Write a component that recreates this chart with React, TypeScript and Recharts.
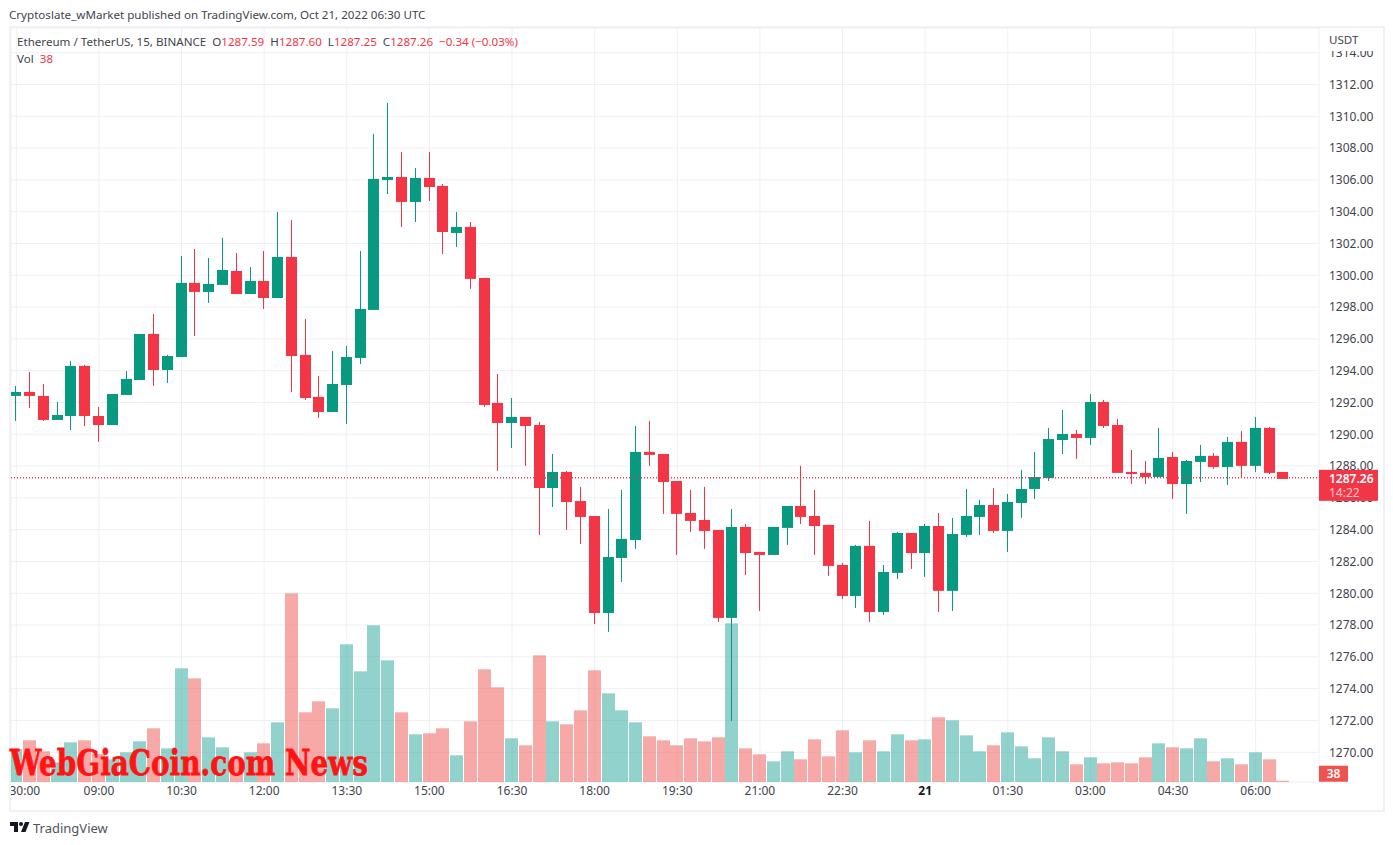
import React from 'react';
import {
  ComposedChart,
  Bar,
  XAxis,
  YAxis,
  CartesianGrid,
  ReferenceLine,
} from 'recharts';

const UP = '#089981';
const DOWN = '#f23645';
const VOL_UP = '#26a69a';
const VOL_DOWN = '#ef5350';
const GRID = '#eff0f3';
const FRAME = '#f0f1f6';
const TEXT = '#3f434e';
const FONT = '"Noto Sans", "Open Sans", sans-serif';

const opens = [
  1292.41, 1292.66, 1292.41, 1290.90, 1291.15, 1294.30, 1291.15, 1290.58, 1292.47, 1293.41,
  1296.31, 1294.04, 1294.86, 1299.52, 1298.95, 1299.39, 1300.27, 1298.82, 1299.64, 1298.57,
  1301.15, 1294.99, 1292.35, 1291.40, 1293.10, 1294.80, 1297.82, 1305.99, 1306.18, 1304.61,
  1306.12, 1305.62, 1302.66, 1303.04, 1299.83, 1291.97, 1290.71, 1291.09, 1290.58, 1286.62,
  1287.63, 1285.80, 1284.86, 1278.76, 1282.22, 1283.35, 1288.89, 1288.76, 1287.06, 1285.05,
  1284.61, 1283.98, 1278.45, 1284.17, 1282.60, 1282.41, 1284.11, 1285.49, 1284.86, 1284.30,
  1281.78, 1279.83, 1282.98, 1278.82, 1281.28, 1283.79, 1282.53, 1284.23, 1280.15, 1283.67,
  1284.80, 1285.55, 1283.92, 1285.68, 1286.56, 1287.25, 1289.64, 1290.02, 1289.77, 1292.03,
  1290.58, 1287.63, 1287.57, 1287.31, 1288.57, 1286.87, 1288.26, 1288.64, 1287.94, 1289.52,
  1288.01, 1290.40, 1287.63,
];
const highs = [
  1293.04, 1293.92, 1293.16, 1292.03, 1294.61, 1294.36, 1291.72, 1292.53, 1293.98, 1296.31,
  1297.57, 1294.99, 1301.21, 1301.65, 1301.09, 1302.35, 1301.40, 1300.52, 1301.53, 1303.98,
  1303.48, 1297.25, 1293.67, 1295.24, 1295.55, 1301.53, 1308.89, 1310.84, 1307.75, 1306.75,
  1307.75, 1305.74, 1303.98, 1303.35, 1299.83, 1293.79, 1292.28, 1291.09, 1290.77, 1288.76,
  1287.69, 1286.69, 1284.86, 1285.30, 1286.50, 1290.52, 1290.84, 1288.76, 1287.06, 1286.50,
  1286.69, 1283.98, 1285.30, 1284.36, 1282.60, 1284.17, 1285.49, 1288.01, 1286.50, 1284.30,
  1281.91, 1283.04, 1284.55, 1281.78, 1283.86, 1283.79, 1284.36, 1285.05, 1284.74, 1286.56,
  1285.87, 1286.62, 1286.25, 1287.76, 1288.89, 1290.40, 1291.53, 1290.27, 1292.53, 1292.16,
  1290.96, 1289.01, 1288.32, 1290.40, 1288.89, 1288.38, 1289.33, 1288.82, 1289.83, 1290.21,
  1291.09, 1290.46, 1287.63,
];
const lows = [
  1290.84, 1291.65, 1290.84, 1290.90, 1290.27, 1290.52, 1289.52, 1290.58, 1292.47, 1293.41,
  1293.04, 1293.23, 1294.86, 1296.18, 1298.26, 1299.39, 1298.82, 1298.82, 1297.88, 1298.57,
  1292.66, 1292.16, 1291.03, 1291.40, 1290.65, 1294.42, 1297.82, 1305.11, 1303.04, 1303.35,
  1304.67, 1301.34, 1301.78, 1299.14, 1291.72, 1287.69, 1289.14, 1288.01, 1283.67, 1285.43,
  1283.98, 1283.10, 1278.07, 1277.57, 1280.71, 1282.79, 1288.01, 1284.99, 1282.41, 1283.86,
  1282.79, 1278.20, 1271.97, 1281.15, 1278.89, 1282.41, 1283.04, 1284.36, 1282.41, 1281.09,
  1279.64, 1279.08, 1278.20, 1278.64, 1280.90, 1281.53, 1281.03, 1278.82, 1278.89, 1283.54,
  1283.67, 1283.79, 1282.60, 1284.74, 1285.93, 1287.06, 1288.76, 1288.45, 1289.33, 1290.40,
  1287.57, 1286.87, 1286.87, 1287.31, 1285.93, 1284.99, 1287.00, 1287.82, 1286.81, 1287.31,
  1287.63, 1287.50, 1287.19,
];
const closes = [
  1292.66, 1292.41, 1290.90, 1291.21, 1294.30, 1291.15, 1290.58, 1292.53, 1293.48, 1296.31,
  1294.04, 1294.92, 1299.52, 1298.95, 1299.45, 1300.33, 1298.82, 1299.64, 1298.57, 1301.15,
  1294.92, 1292.28, 1291.40, 1293.16, 1294.86, 1297.88, 1306.06, 1306.18, 1304.61, 1306.12,
  1305.55, 1302.72, 1303.04, 1299.77, 1291.84, 1290.71, 1291.09, 1290.52, 1286.62, 1287.63,
  1285.74, 1284.80, 1278.76, 1282.28, 1283.42, 1288.89, 1288.70, 1287.00, 1284.99, 1284.55,
  1283.92, 1278.45, 1284.17, 1282.53, 1282.41, 1284.17, 1285.49, 1284.80, 1284.23, 1281.72,
  1279.83, 1282.98, 1278.82, 1281.34, 1283.79, 1282.53, 1284.23, 1280.15, 1283.73, 1284.86,
  1285.55, 1283.92, 1285.74, 1286.56, 1287.31, 1289.70, 1290.02, 1289.77, 1292.03, 1290.52,
  1287.57, 1287.50, 1287.31, 1288.51, 1286.87, 1288.32, 1288.64, 1287.94, 1289.52, 1288.01,
  1290.40, 1287.57, 1287.19,
];
const volumes = [
  990, 1250, 920, 590, 1190, 1250, 840, 680, 890, 1220,
  1610, 1010, 3410, 3110, 1340, 1040, 690, 890, 1160, 1790,
  5660, 2090, 2420, 2210, 4130, 3320, 4700, 3650, 2090, 1430,
  1460, 1610, 800, 1820, 3380, 2840, 1310, 1100, 3800, 1820,
  1730, 2150, 3350, 2660, 2150, 1790, 1370, 1250, 1100, 1310,
  1220, 1340, 4760, 1010, 830, 620, 920, 680, 1280, 770,
  1550, 890, 1250, 920, 1430, 1250, 1280, 1940, 1850, 1400,
  920, 1100, 1490, 1070, 710, 1340, 920, 530, 740, 560,
  590, 560, 740, 1160, 1040, 1010, 1310, 620, 710, 530,
  890, 680, 38,
];

const timeTicks = [0, 6, 12, 18, 24, 30, 36, 42, 48, 54, 60, 66, 72, 78, 84, 90];
const timeLabels = [
  '30:00', '09:00', '10:30', '12:00', '13:30', '15:00', '16:30', '18:00',
  '19:30', '21:00', '22:30', '21', '01:30', '03:00', '04:30', '06:00',
];
const priceTicks = [
  1270, 1272, 1274, 1276, 1278, 1280, 1282, 1284, 1286, 1288, 1290, 1292,
  1294, 1296, 1298, 1300, 1302, 1304, 1306, 1308, 1310, 1312, 1314,
];

const LAST_PRICE = 1287.26;
const LAST_VOLUME = 38;

const data = opens.map((open, i) => ({
  i,
  wick: [lows[i], highs[i]],
  body: [Math.min(open, closes[i]), Math.max(open, closes[i])],
  volume: volumes[i],
  up: closes[i] >= open,
}));

const xDomain: [number, number] = [-0.385, 94.6];
const priceDomain: [number, number] = [1268.13, 1315.55];
const volumeDomain: [number, number] = [0, 22620];

const TimeTick = (props: any) => {
  const { x, y, payload } = props;
  const idx = timeTicks.indexOf(payload.value);
  const label = timeLabels[idx];
  return (
    <text
      // first label is pushed inside the pane, like on the original
      x={idx === 0 ? x + 8.5 : x}
      y={y + 4}
      textAnchor="middle"
      fontFamily={FONT}
      fontSize={12}
      fontWeight={label === '21' ? 700 : 400}
      fill={label === '21' ? '#131722' : TEXT}
    >
      {label}
    </text>
  );
};

// bars snapped to whole pixels so wicks stay sharp
const CandleShape = (props: any) => {
  const { x, y, width, height, payload } = props;
  return <rect x={Math.round(x)} y={y} width={width} height={height} fill={payload.up ? UP : DOWN} />;
};

const VolumeShape = (props: any) => {
  const { x, y, width, height, payload } = props;
  return (
    <rect
      x={Math.round(x)}
      y={y}
      width={width}
      height={height}
      fill={payload.up ? VOL_UP : VOL_DOWN}
      fillOpacity={0.5}
    />
  );
};

const PriceTag = (props: any) => {
  const { viewBox } = props;
  const left = viewBox.x + viewBox.width;
  return (
    <g>
      <rect x={left} y={viewBox.y - 8} width={59} height={31} fill={DOWN} />
      <text x={left + 10} y={viewBox.y + 5} fontFamily={FONT} fontSize={12} fontWeight={600} fill="#fff">
        {LAST_PRICE.toFixed(2)}
      </text>
      <text x={left + 10} y={viewBox.y + 19} fontFamily={FONT} fontSize={12} fill="#fff" fillOpacity={0.75}>
        14:22
      </text>
    </g>
  );
};

const VolumeTag = (props: any) => {
  const { viewBox } = props;
  const left = viewBox.x + viewBox.width;
  return (
    <g>
      <rect x={left} y={viewBox.y - 15} width={29} height={16} fill={VOL_DOWN} />
      <text x={left + 14.5} y={viewBox.y - 3} textAnchor="middle" fontFamily={FONT} fontSize={12} fontWeight={600} fill="#fff">
        {LAST_VOLUME}
      </text>
    </g>
  );
};

const Red = ({ children }: { children: React.ReactNode }) => (
  <span style={{ color: DOWN }}>{children}</span>
);

export default function App() {
  return (
    <div
      style={{
        position: 'absolute',
        left: 0,
        top: 0,
        width: 1393,
        height: 845,
        background: '#fff',
        overflow: 'hidden',
        fontFamily: FONT,
        fontSize: 11.6,
        color: TEXT,
      }}
    >
      <ComposedChart
        width={1393}
        height={845}
        data={data}
        margin={{ top: 28, left: 11, right: 0, bottom: 0 }}
      >
        <CartesianGrid stroke={GRID} xAxisId="time" yAxisId="price" />
        <XAxis
          xAxisId="time"
          dataKey="i"
          type="number"
          domain={xDomain}
          allowDataOverflow
          ticks={timeTicks}
          height={63}
          tickSize={0}
          tickMargin={9}
          axisLine={false}
          tickLine={false}
          interval={0}
          tick={<TimeTick />}
        />
        <XAxis xAxisId="wick" dataKey="i" type="number" domain={xDomain} allowDataOverflow hide height={0} />
        <XAxis xAxisId="body" dataKey="i" type="number" domain={xDomain} allowDataOverflow hide height={0} />
        <YAxis
          yAxisId="price"
          orientation="right"
          domain={priceDomain}
          allowDataOverflow
          ticks={priceTicks}
          interval={0}
          width={74}
          tickSize={0}
          tickMargin={10}
          axisLine={false}
          tickLine={false}
          tick={{ fontFamily: FONT, fontSize: 12, fill: TEXT, textAnchor: 'start' }}
          tickFormatter={(v: number) => v.toFixed(2)}
        />
        <YAxis yAxisId="vol" domain={volumeDomain} allowDataOverflow hide />

        <Bar xAxisId="time" yAxisId="vol" dataKey="volume" barSize={13} shape={VolumeShape} isAnimationActive={false} />
        <Bar xAxisId="wick" yAxisId="price" dataKey="wick" barSize={1} shape={CandleShape} isAnimationActive={false} />
        <Bar xAxisId="body" yAxisId="price" dataKey="body" barSize={11} shape={CandleShape} isAnimationActive={false} />
      </ComposedChart>

      {/* second chart on top: same scales, so the tags cover the axis labels */}
      <div style={{ position: 'absolute', left: 0, top: 0 }}>
        <ComposedChart
          width={1393}
          height={845}
          data={data}
          margin={{ top: 28, left: 11, right: 74, bottom: 63 }}
        >
          <XAxis dataKey="i" type="number" domain={xDomain} allowDataOverflow hide height={0} />
          <YAxis yAxisId="price" domain={priceDomain} allowDataOverflow hide />
          <YAxis yAxisId="vol" domain={volumeDomain} allowDataOverflow hide />
          <ReferenceLine
            yAxisId="price"
            y={LAST_PRICE}
            stroke={DOWN}
            strokeWidth={1.4}
            strokeDasharray="1 2"
            label={<PriceTag />}
          />
          <ReferenceLine yAxisId="vol" y={LAST_VOLUME} stroke="none" label={<VolumeTag />} />
        </ComposedChart>
      </div>

      {/* frame round the chart */}
      <div
        style={{
          position: 'absolute',
          left: 9,
          top: 26,
          width: 1372,
          height: 782,
          border: `2px solid ${FRAME}`,
          pointerEvents: 'none',
        }}
      />

      <div style={{ position: 'absolute', left: 9, top: 7, whiteSpace: 'nowrap' }}>
        Cryptoslate_wMarket published on TradingView.com, Oct 21, 2022 06:30 UTC
      </div>
      <div style={{ position: 'absolute', left: 17, top: 34, whiteSpace: 'pre' }}>
        {'Ethereum / TetherUS, 15, BINANCE  O'}
        <Red>1287.59</Red>
        {'  H'}
        <Red>1287.60</Red>
        {'  L'}
        <Red>1287.25</Red>
        {'  C'}
        <Red>1287.26</Red>
        {'  '}
        <Red>−0.34 (−0.03%)</Red>
      </div>
      <div style={{ position: 'absolute', left: 17, top: 51, whiteSpace: 'pre' }}>
        {'Vol  '}
        <Red>38</Red>
      </div>

      {/* USDT block hides the top of the 1314 label */}
      <div
        style={{
          position: 'absolute',
          left: 1320,
          top: 28,
          width: 60,
          height: 23,
          background: '#fff',
          paddingLeft: 9,
          paddingTop: 4,
          boxSizing: 'border-box',
        }}
      >
        USDT
      </div>

      <svg style={{ position: 'absolute', left: 0, top: 740 }} width={400} height={44}>
        <text
          x={10}
          y={35}
          fontFamily='"DejaVu Serif", serif'
          fontWeight={700}
          fontSize={36}
          fill="#ff1414"
          stroke="#ff1414"
          strokeWidth={0.8}
          textLength={358}
          lengthAdjust="spacingAndGlyphs"
        >
          WebGiaCoin.com News
        </text>
      </svg>

      <svg style={{ position: 'absolute', left: 10, top: 822 }} width={20} height={11}>
        <path d="M0 0H8V10H4V4H0Z" fill="#131722" />
        <circle cx={11} cy={2} r={2} fill="#131722" />
        <path d="M15 0H19.5L15.5 10H11Z" fill="#131722" />
      </svg>
      <div style={{ position: 'absolute', left: 33, top: 819, fontSize: 13, color: '#50535e' }}>
        TradingView
      </div>
    </div>
  );
}
